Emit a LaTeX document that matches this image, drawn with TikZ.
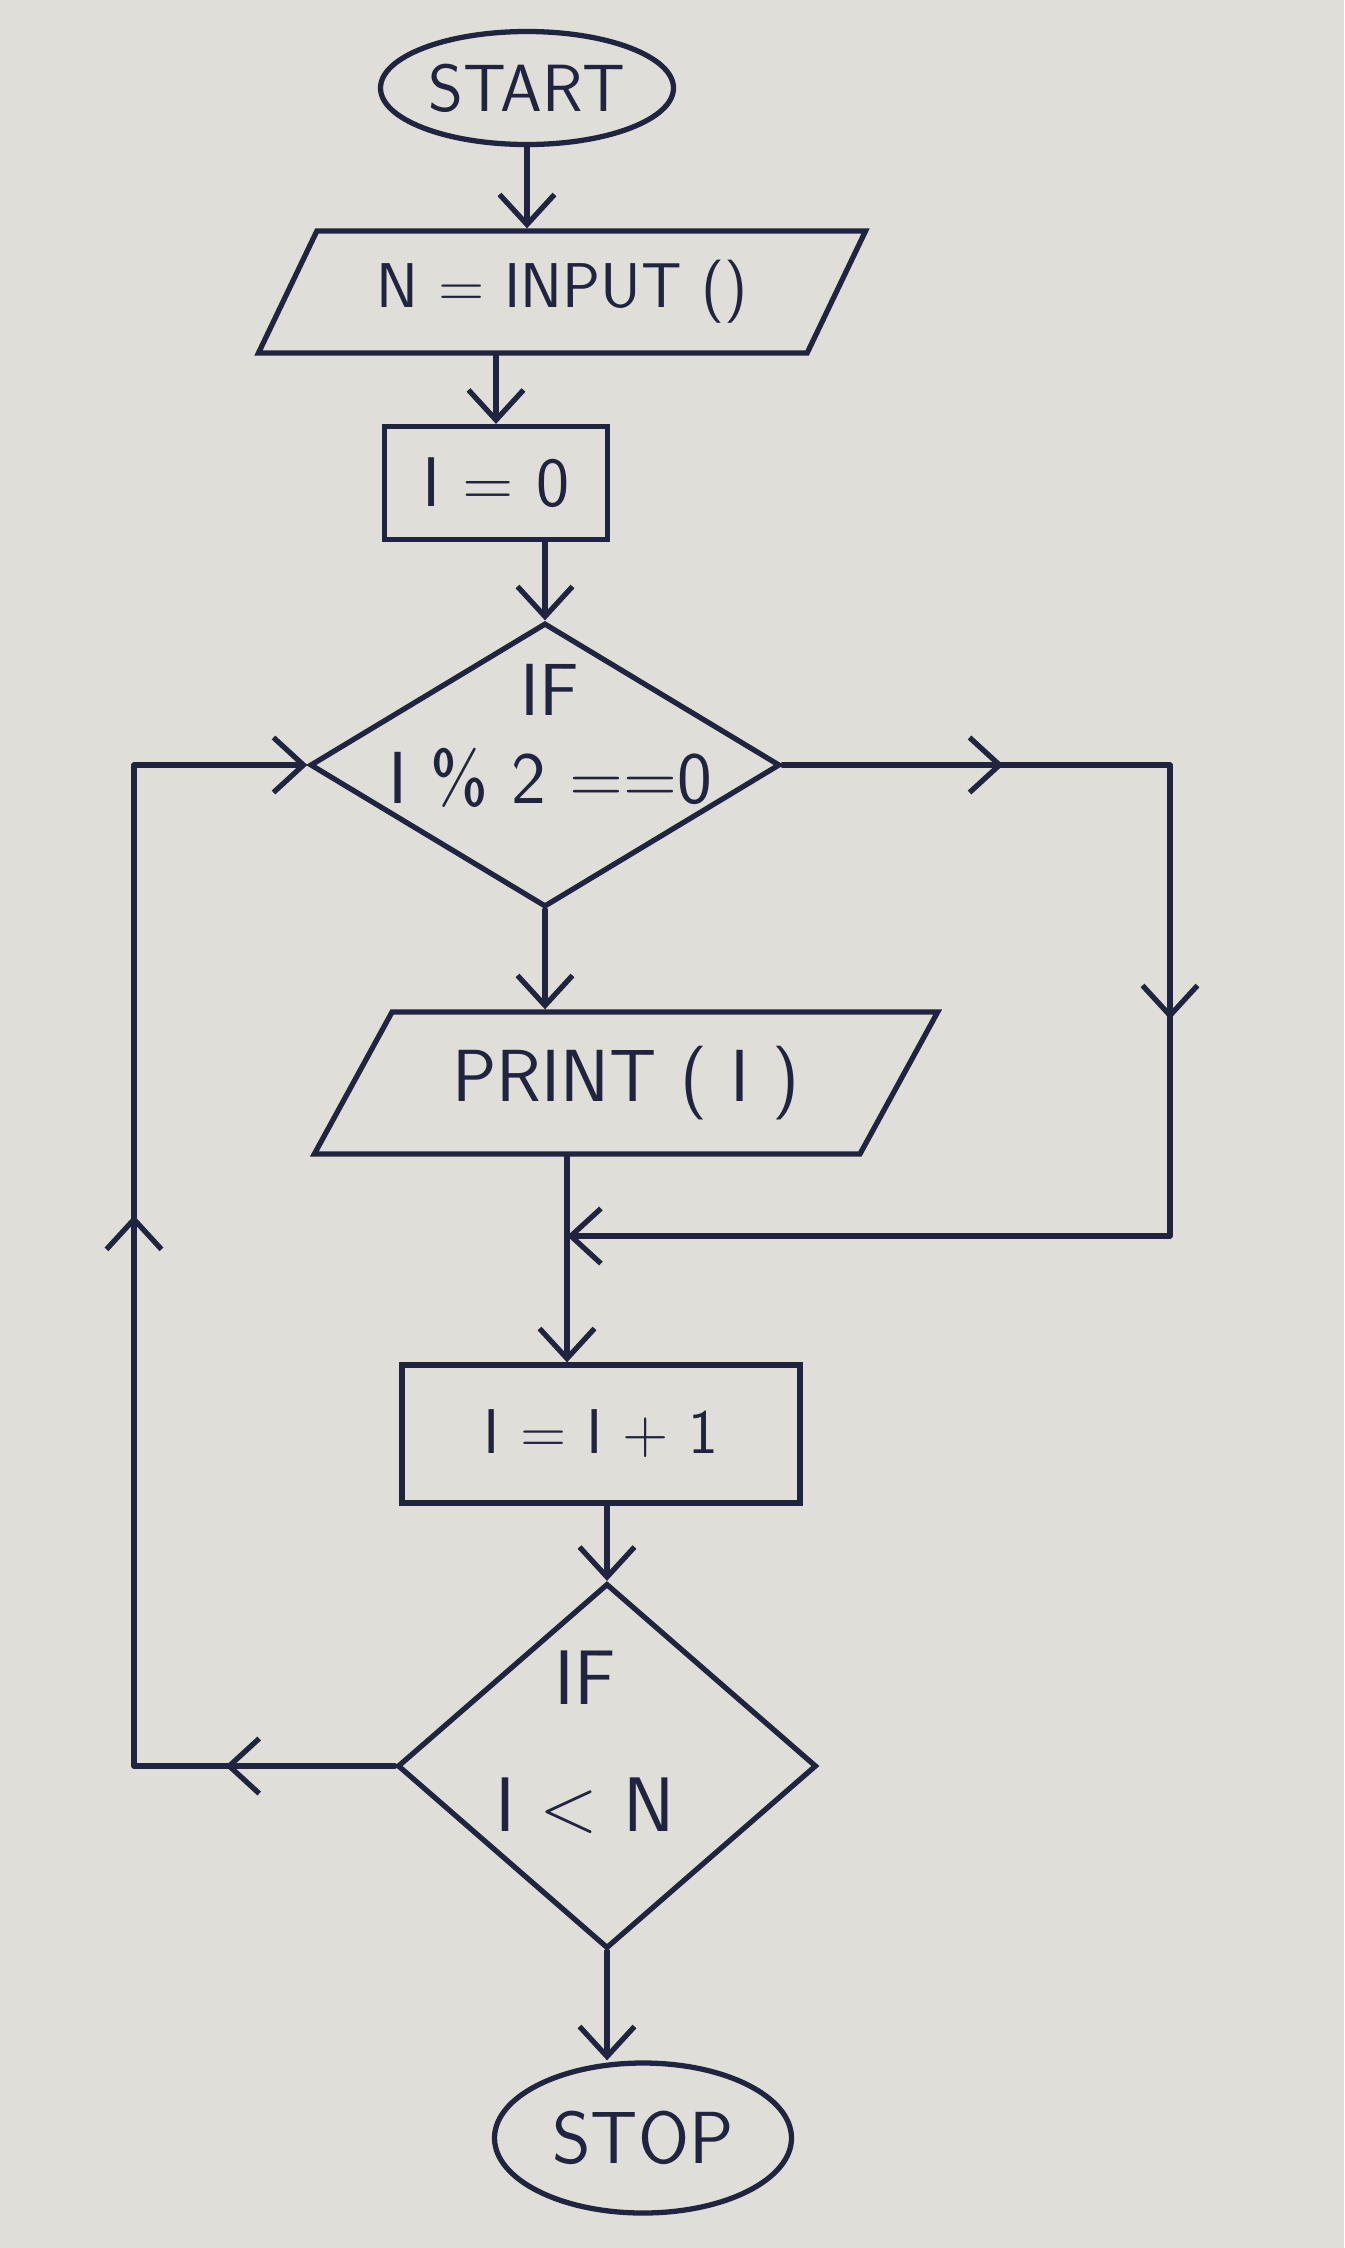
\documentclass[tikz,border=0pt]{standalone}
\usetikzlibrary{shapes.geometric,arrows.meta,decorations.markings}
\definecolor{ink}{RGB}{33,36,64}
\definecolor{paper}{RGB}{224,222,216}
\newcommand{\handfont}[1]{\sffamily\fontsize{#1}{22}\selectfont}

\begin{document}
\begin{tikzpicture}[
  every node/.style={text=ink, font=\handfont{19}},
  line/.style={draw=ink, line width=1.5pt, line cap=round},
  arr/.style={line, -{Straight Barb[length=3mm,width=5.5mm]}},
  term/.style={line, ellipse, inner sep=0pt},
  io/.style={line, trapezium, trapezium stretches=true, inner sep=0pt},
  proc/.style={line, rectangle, inner sep=0pt},
  cond/.style={line, diamond, inner sep=0pt},
  midarrow/.style={line, postaction={decorate},
    decoration={markings, mark=at position #1 with
      {\arrow[ink, line width=1.5pt]{Straight Barb[length=3mm,width=5.5mm]}}}},
  midarrow/.default=0.55
]
  \fill[paper] (0,0) rectangle (13.44,-22.48);

  \node[term, minimum width=2.93cm, minimum height=1.13cm] (start) at (5.27,-0.88) {START};
  \node[io, trapezium left angle=55, trapezium right angle=125,
        minimum width=6.08cm, minimum height=1.22cm, font=\handfont{18}] (in) at (5.62,-2.92) {N = INPUT ()};
  \node[proc, minimum width=2.23cm, minimum height=1.13cm, font=\handfont{20}] (i0) at (4.96,-4.83) {I = 0};

  \node[cond, minimum width=4.7cm, minimum height=2.84cm] (d1) at (5.45,-7.65) {};
  \node[align=center, font=\handfont{21}] (t1) at (5.5,-7.36) {IF\\[3pt] I \% 2 ==0};

  \node[io, trapezium left angle=52, trapezium right angle=128,
        minimum width=6.24cm, minimum height=1.42cm, font=\handfont{21}] (pr) at (6.26,-10.83) {PRINT ( I )};
  \node[proc, minimum width=3.98cm, minimum height=1.38cm, font=\handfont{18}] (inc) at (6.01,-14.34) {I = I + 1};

  \node[cond, minimum width=4.19cm, minimum height=3.65cm] (d2) at (6.07,-17.66) {};
  \node[align=center, font=\handfont{22}] (t2) at (5.85,-17.42) {IF\\[14pt] I \textless{} N};

  \node[term, minimum width=2.97cm, minimum height=1.5cm, font=\handfont{21}] (stop) at (6.43,-21.38) {STOP};

  % corners of the two side branches
  \coordinate (rt) at (11.7,-7.65);
  \coordinate (rb) at (11.7,-12.36);
  \coordinate (m)  at (5.67,-12.36);
  \coordinate (lt) at (1.34,-7.65);
  \coordinate (lb) at (1.34,-17.66);

  \draw[arr] (start.south) -- (start.south |- in.north);
  \draw[arr] (in.south -| i0.north) -- (i0.north);
  \draw[arr] (i0.south -| d1.north) -- (d1.north);
  \draw[arr] (d1.south) -- (d1.south |- pr.north);

  \draw[midarrow=0.57] (d1.east) -- (rt);
  \draw[midarrow=0.54] (rt) -- (rb);
  \draw[arr] (rb) -- (m);

  \draw[arr] (pr.south -| m) -- (m |- inc.north);
  \draw[arr] (inc.south -| d2.north) -- (d2.north);

  \draw[midarrow=0.65] (d2.west) -- (lb);
  \draw[midarrow=0.55] (lb) -- (lt);
  \draw[arr] (lt) -- (d1.west);

  \draw[arr] (d2.south) -- (d2.south |- stop.north);
\end{tikzpicture}
\end{document}
